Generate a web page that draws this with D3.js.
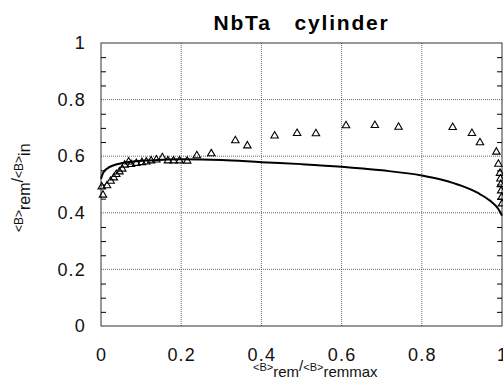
<!DOCTYPE html>
<html>
<head>
<meta charset="utf-8">
<script src="https://cdn.jsdelivr.net/npm/d3@7"></script>
<style>
  body { margin: 0; background: #fff; }
  svg { display: block; font-family: "Liberation Sans", Arial, sans-serif; }
</style>
</head>
<body>
<div id="chart"></div>
<script>
// --- Data ---

var titleText = "NbTa   cylinder";
var xTicks = [0, 0.2, 0.4, 0.6, 0.8, 1];
var yTicks = [0, 0.2, 0.4, 0.6, 0.8, 1];
var yMinorTicks = [0.05, 0.1, 0.15, 0.25, 0.3, 0.35, 0.45, 0.5, 0.55, 0.65, 0.7, 0.75, 0.85, 0.9, 0.95];

// measured points (triangles)
var ptX = [0.005, 0.002, 0.015, 0.024, 0.032, 0.038, 0.046, 0.053, 0.059, 0.069,
           0.075, 0.088, 0.102, 0.113, 0.125, 0.138, 0.153, 0.167, 0.181, 0.196,
           0.215, 0.239, 0.275, 0.335, 0.365, 0.433, 0.489, 0.536, 0.611, 0.683,
           0.742, 0.877, 0.925, 0.945, 0.986, 0.991, 0.995, 0.996, 0.997, 0.998,
           0.999, 1.0];
var ptY = [0.463, 0.492, 0.496, 0.512, 0.524, 0.536, 0.545, 0.555, 0.569, 0.580,
           0.571, 0.575, 0.578, 0.580, 0.584, 0.587, 0.595, 0.584, 0.584, 0.584,
           0.583, 0.602, 0.609, 0.655, 0.637, 0.672, 0.681, 0.680, 0.708, 0.709,
           0.703, 0.702, 0.681, 0.648, 0.615, 0.572, 0.540, 0.520, 0.500, 0.478,
           0.455, 0.432];

// model curve (solid line)
var curveX = [0, 0.005, 0.015, 0.03, 0.05, 0.08, 0.12, 0.2, 0.3, 0.4, 0.5, 0.6,
              0.7, 0.8, 0.85, 0.9, 0.94, 0.97, 0.99, 1.0];
var curveY = [0.52, 0.54, 0.556, 0.567, 0.575, 0.581, 0.585, 0.589, 0.587, 0.579,
              0.572, 0.563, 0.55, 0.532, 0.517, 0.495, 0.47, 0.443, 0.415, 0.39];

var pxX = 503, pxY = 379;
var margin = {left: 101, right: 1, top: 43, bottom: 53};

var svg = d3.select("#chart").append("svg")
  .attr("width", pxX)
  .attr("height", pxY);

// --- Scales ---

var scX = d3.scaleLinear().domain([0, 1]).range([margin.left, pxX - margin.right]);
var scY = d3.scaleLinear().domain([0, 1]).range([pxY - margin.bottom, margin.top]);

// --- Grid ---

var grid = svg.append("g")
  .attr("stroke", "#444")
  .attr("stroke-width", 0.8)
  .attr("stroke-dasharray", "1,1");

grid.selectAll("line.gx")
  .data(xTicks.slice(1, -1))
  .enter()
  .append("line")
  .attr("x1", d => scX(d)).attr("x2", d => scX(d))
  .attr("y1", scY(0)).attr("y2", scY(1));

grid.selectAll("line.gy")
  .data(yTicks.slice(1, -1))
  .enter()
  .append("line")
  .attr("x1", scX(0)).attr("x2", scX(1))
  .attr("y1", d => scY(d)).attr("y2", d => scY(d));

// --- Frame and minor ticks ---

svg.append("rect")
  .attr("x", scX(0)).attr("y", scY(1))
  .attr("width", scX(1) - scX(0))
  .attr("height", scY(0) - scY(1))
  .attr("fill", "none")
  .attr("stroke", "#333")
  .attr("stroke-width", 1);

svg.append("g")
  .call(d3.axisRight(scY).tickValues(yMinorTicks).tickSize(5).tickFormat(""))
  .attr("transform", `translate(${scX(0)}, 0)`)
  .call(g => g.select(".domain").remove());

svg.append("g")
  .call(d3.axisLeft(scY).tickValues(yMinorTicks).tickSize(5).tickFormat(""))
  .attr("transform", `translate(${scX(1)}, 0)`)
  .call(g => g.select(".domain").remove());

// --- Axes labels ---

var fmt = d3.format("~g");

svg.append("g")
  .call(d3.axisLeft(scY).tickValues(yTicks).tickSize(0).tickPadding(15).tickFormat(fmt))
  .attr("transform", `translate(${scX(0)}, 0)`)
  .call(g => g.select(".domain").remove())
  .selectAll("text")
  .attr("font-size", 18)
  .attr("font-family", "Liberation Sans, Arial, sans-serif")
  .attr("letter-spacing", 1.2)
  .attr("fill", "#111");

svg.append("g")
  .call(d3.axisBottom(scX).tickValues(xTicks).tickSize(0).tickPadding(22).tickFormat(fmt))
  .attr("transform", `translate(0, ${scY(0)})`)
  .call(g => g.select(".domain").remove())
  .selectAll("text")
  .attr("font-size", 18)
  .attr("font-family", "Liberation Sans, Arial, sans-serif")
  .attr("letter-spacing", 1.2)
  .attr("fill", "#111");

// --- Curve and points ---

var curveData = curveX.map((x, i) => ({x: x, y: curveY[i]}));
var pts = ptX.map((x, i) => ({x: x, y: ptY[i]}));

var lnMkr = d3.line()
  .curve(d3.curveMonotoneX)
  .x(d => scX(d.x))
  .y(d => scY(d.y));

svg.append("path")
  .attr("fill", "none")
  .attr("stroke", "#000")
  .attr("stroke-width", 2)
  .attr("d", lnMkr(curveData));

var tri = d3.symbol().type(d3.symbolTriangle).size(24);

svg.append("g")
  .selectAll("path")
  .data(pts)
  .enter()
  .append("path")
  .attr("d", tri)
  .attr("transform", d => `translate(${scX(d.x)}, ${scY(d.y)})`)
  .attr("fill", "none")
  .attr("stroke", "#000")
  .attr("stroke-width", 1.1);

// --- Title and axis titles ---

svg.append("text")
  .attr("x", (scX(0) + scX(1)) / 2)
  .attr("y", 30)
  .attr("text-anchor", "middle")
  .attr("font-size", 21)
  .attr("font-weight", "bold")
  .attr("letter-spacing", 1.8)
  .style("white-space", "pre")
  .text(titleText);

var xTitle = svg.append("text")
  .attr("x", 253)
  .attr("y", 371)
  .attr("fill", "#111");
xTitle.append("tspan").attr("font-size", 11).text("<B>");
xTitle.append("tspan").attr("font-size", 15).attr("dy", 6).text("rem");
xTitle.append("tspan").attr("font-size", 15).attr("dy", -6).text("/");
xTitle.append("tspan").attr("font-size", 11).text("<B>");
xTitle.append("tspan").attr("font-size", 15).attr("dy", 6).text("remmax");

var yTitle = svg.append("text")
  .attr("transform", "translate(23, 232) rotate(-90)")
  .attr("fill", "#111");
yTitle.append("tspan").attr("font-size", 12).text("<B>");
yTitle.append("tspan").attr("font-size", 16).attr("dy", 7).text("rem");
yTitle.append("tspan").attr("font-size", 16).attr("dy", -7).text("/");
yTitle.append("tspan").attr("font-size", 12).text("<B>");
yTitle.append("tspan").attr("font-size", 16).attr("dy", 7).text("in");
</script>
</body>
</html>
